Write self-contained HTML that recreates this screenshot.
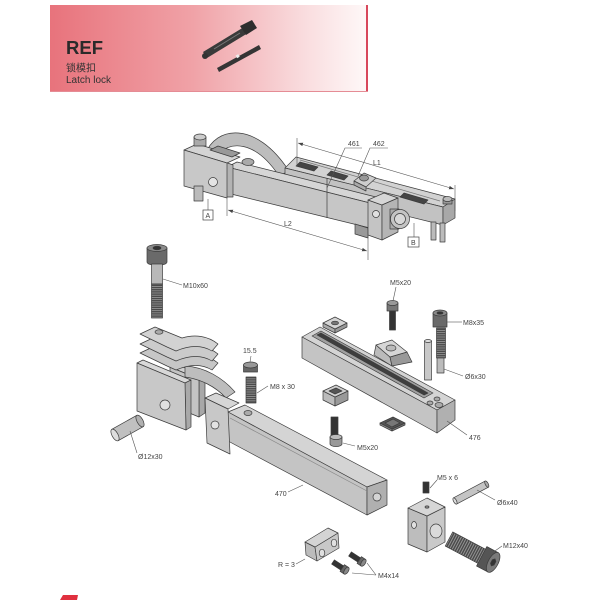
<!DOCTYPE html>
<html><head><meta charset="utf-8"><style>
html,body{margin:0;padding:0;background:#fff;}
svg{display:block;}
text{font-family:"Liberation Sans","Noto Sans CJK SC",sans-serif;}
</style></head><body>
<svg width="600" height="600" viewBox="0 0 600 600" xmlns="http://www.w3.org/2000/svg">
<defs>
<linearGradient id="hg" x1="0" x2="1" y1="0" y2="0">
<stop offset="0" stop-color="#e8737c"/>
<stop offset="0.45" stop-color="#f0a2a7"/>
<stop offset="0.8" stop-color="#f9dcde"/>
<stop offset="1" stop-color="#fef8f8"/>
</linearGradient>
<pattern id="thr" width="4" height="2.2" patternUnits="userSpaceOnUse"><rect width="4" height="2.2" fill="#4a4a4a"/><rect width="4" height="0.8" fill="#9a9a9a"/></pattern>
<pattern id="thv" width="2.4" height="4" patternUnits="userSpaceOnUse"><rect width="2.4" height="4" fill="#4a4a4a"/><rect width="0.9" height="4" fill="#9a9a9a"/></pattern>
<marker id="ar" markerWidth="6" markerHeight="6" refX="5" refY="3" orient="auto-start-reverse" markerUnits="userSpaceOnUse"><path d="M0,1.2 L5,3 L0,4.8 Z" fill="#444"/></marker>
</defs>

<!-- HEADER -->
<rect x="50" y="5" width="317" height="86" fill="url(#hg)"/>
<line x1="367" y1="5" x2="367" y2="91" stroke="#d8485c" stroke-width="2"/>
<line x1="50" y1="91.5" x2="368" y2="91.5" stroke="#e58c95" stroke-width="1"/>
<text x="66" y="54" font-size="18.5" font-weight="bold" fill="#2a2a2a">REF</text>
<text x="66" y="71.5" font-size="10" fill="#333">锁模扣</text>
<text x="66" y="83" font-size="10" fill="#333">Latch lock</text>
<g>
<polygon points="203,52 244,27 248,33 207,58" fill="#3a3a3a"/>
<polygon points="240,26 252,20 257,28 246,35" fill="#2e2e2e"/>
<circle cx="205" cy="56" r="3" fill="#333"/>
<line x1="214" y1="49" x2="240" y2="33" stroke="#777" stroke-width="1"/>
<polygon points="217,68 259,45 261,49 219,72" fill="#353535"/>
<rect x="236" y="55" width="3" height="3" fill="#eee" transform="rotate(-29 237 56)"/>
</g>

<!-- TOP ASSEMBLY -->
<g stroke="#3c3c3c" stroke-width="0.7" stroke-linejoin="round">
<!-- arch strap -->
<path d="M205,155 C215,126 256,120 289,171 L279,176 C256,141 229,139 216,157 Z" fill="#bdbdbd"/>
<!-- rail -->
<polygon points="285,168 296,157 455,199 443,207" fill="#d2d2d2"/>
<polygon points="285,168 443,207 443,225 285,186" fill="#c2c2c2"/>
<polygon points="443,207 455,199 455,218 443,225" fill="#a8a8a8"/>
<polygon points="296,166 300,162 318,167 314,171" fill="#444"/>
<polygon points="327,175 331,171 348,176 344,180" fill="#444"/>
<polygon points="400,197 404,193 428,200 424,204" fill="#444"/>
<line x1="300" y1="160" x2="440" y2="201" stroke="#777"/>
<!-- pins under rail end -->
<rect x="431" y="222" width="5" height="18" fill="#bbb"/>
<rect x="440" y="223" width="5" height="19" fill="#bbb"/>
<!-- bolt on rail end -->
<rect x="443" y="199" width="9" height="5" fill="#999"/>
<ellipse cx="447.5" cy="199" rx="4.5" ry="2.5" fill="#bbb"/>
<!-- beam -->
<polygon points="227,167 237,162 380,198 370,203" fill="#d6d6d6"/>
<polygon points="227,167 370,203 370,228 227,193" fill="#c6c6c6"/>
<line x1="327" y1="178" x2="327" y2="218"/>
<!-- clamp under beam -->
<polygon points="355,224 368,228 368,238 355,234" fill="#999"/>
<!-- nut on beam -->
<ellipse cx="248" cy="162" rx="6" ry="3.5" fill="#aaa"/>
<!-- left block -->
<polygon points="225,162 233,165 233,197 226,197" fill="#b3b3b3"/>
<polygon points="184,150 197,144 240,157 227,163" fill="#d4d4d4"/>
<polygon points="184,150 227,163 227,198 184,186" fill="#c8c8c8"/>
<circle cx="213" cy="182" r="4.5" fill="#e4e4e4"/>
<polygon points="210,150 218,146 240,153 232,157" fill="#999"/>
<rect x="194" y="137" width="12" height="9" fill="#aaa"/>
<ellipse cx="200" cy="137" rx="6" ry="3" fill="#ccc"/>
<rect x="194" y="186" width="9" height="15" fill="#bbb"/>
<!-- right block on beam end -->
<polygon points="368,200 382,205 382,240 368,235" fill="#c4c4c4"/>
<polygon points="368,200 384,193 398,198 382,205" fill="#d6d6d6"/>
<polygon points="382,205 398,198 398,232 382,240" fill="#b5b5b5"/>
<circle cx="376" cy="214" r="3.5" fill="#e0e0e0"/>
<rect x="390" y="209" width="9" height="20" fill="#aaa"/>
<circle cx="400" cy="219" r="9.5" fill="#c4c4c4"/>
<circle cx="400" cy="219" r="5.5" fill="#d8d8d8"/>
<!-- wedge 462 -->
<polygon points="354,181 364,173 376,178 366,187" fill="#cdcdcd"/>
<polygon points="354,181 366,187 366,191 354,185" fill="#aaa"/>
<ellipse cx="364" cy="178" rx="4.5" ry="3" fill="#999"/>
</g>
<!-- dimensions top -->
<g stroke="#555" stroke-width="0.6" fill="none">
<line x1="298" y1="143" x2="454" y2="189" marker-start="url(#ar)" marker-end="url(#ar)"/>
<line x1="297" y1="138" x2="297" y2="166"/>
<line x1="455" y1="185" x2="455" y2="211"/>
<line x1="228" y1="210" x2="367" y2="251" marker-start="url(#ar)" marker-end="url(#ar)"/>
<line x1="227" y1="196" x2="227" y2="216"/>
<line x1="368" y1="230" x2="368" y2="260"/>
<polyline points="362,148 345,148 327,188"/>
<polyline points="388,148 370,148 358,176"/>
<line x1="208" y1="199" x2="208" y2="210"/>
<line x1="414" y1="223" x2="414" y2="237"/>
</g>
<rect x="203" y="210" width="10" height="10" fill="#fff" stroke="#444" stroke-width="0.7"/>
<rect x="408" y="237" width="11" height="10" fill="#fff" stroke="#444" stroke-width="0.7"/>
<g font-size="7" fill="#444">
<text x="205.5" y="218">A</text>
<text x="411" y="245">B</text>
<text x="348" y="146">461</text>
<text x="373" y="146">462</text>
<text x="373" y="165">L1</text>
<text x="284" y="226">L2</text>
</g>

<!-- MIDDLE LEFT -->
<g stroke="#3c3c3c" stroke-width="0.7" stroke-linejoin="round">
<!-- bolt M10x60 -->
<path d="M147,248 L147,262 A10,3.5 0 0 0 167,262 L167,248 Z" fill="#6a6a6a"/>
<ellipse cx="157" cy="248" rx="10" ry="3.5" fill="#8a8a8a"/>
<ellipse cx="157" cy="248" rx="4" ry="1.8" fill="#333"/>
<rect x="151.5" y="264" width="11" height="20" fill="#b8b8b8"/>
<rect x="151.5" y="284" width="11" height="34" fill="url(#thr)"/>
<!-- clamp behind -->
<polygon points="170,367 176,364 205,376 199,379" fill="#d0d0d0"/>
<polygon points="199,379 205,376 205,413 199,417" fill="#a8a8a8"/>
<polygon points="170,367 199,379 199,417 170,405" fill="#c4c4c4"/>
<!-- curved strap -->
<path d="M185,366 C205,367 223,378 235,392 L226,398 C215,386 200,379 185,377 Z" fill="#bdbdbd"/>
<!-- plates -->
<g transform="translate(0,19)"><path d="M140,334 L155,327 L182,338 C195,334 208,336 218,344 L212,351 C202,345 190,345 176,351 L167,347 Z" fill="#c6c6c6"/></g>
<g transform="translate(0,10)"><path d="M140,334 L155,327 L182,338 C195,334 208,336 218,344 L212,351 C202,345 190,345 176,351 L167,347 Z" fill="#cbcbcb"/></g>
<path d="M140,334 L155,327 L182,338 C195,334 208,336 218,344 L212,351 C202,345 190,345 176,351 L167,347 Z" fill="#d2d2d2"/>
<ellipse cx="159" cy="332" rx="4" ry="2.2" fill="#aaa"/>
<!-- front plate -->
<polygon points="137,363 143,360 191,380 185,383" fill="#d8d8d8"/>
<polygon points="185,383 191,380 191,427 186,430" fill="#a9a9a9"/>
<polygon points="137,363 185,383 186,430 137,411" fill="#c8c8c8"/>
<circle cx="165" cy="405" r="5" fill="#e0e0e0"/>
<!-- pin 12x30 -->
<polygon points="111.8,429.3 136.8,415.3 143.2,426.7 118.2,440.7" fill="#c0c0c0"/>
<ellipse cx="140" cy="421" rx="3" ry="6.5" transform="rotate(-29.2 140 421)" fill="#b0b0b0"/>
<ellipse cx="115" cy="435" rx="3" ry="6.5" transform="rotate(-29.2 115 435)" fill="#dedede"/>
<!-- beam 470 -->
<polygon points="228,412 245,405 387,480 367,487" fill="#d4d4d4"/>
<polygon points="228,412 367,487 367,515 228,441" fill="#c4c4c4"/>
<polygon points="367,487 387,480 387,505 367,515" fill="#b0b0b0"/>
<line x1="230" y1="418" x2="367" y2="491" stroke="#888"/>
<circle cx="377" cy="497" r="4" fill="#d4d4d4"/>
<polygon points="205,398 216,393 239,403 228,409" fill="#d6d6d6"/>
<polygon points="205,398 228,409 230,454 207,443" fill="#c8c8c8"/>
<circle cx="215" cy="425" r="4" fill="#e2e2e2"/>
<ellipse cx="248" cy="413" rx="4" ry="2.5" fill="#aaa"/>
<!-- nut and screw -->
<rect x="243.5" y="365" width="14" height="7" fill="#666"/>
<ellipse cx="250.5" cy="365" rx="7" ry="3" fill="#999"/>
<rect x="246" y="377" width="10" height="26" fill="url(#thr)"/>
</g>
<g stroke="#555" stroke-width="0.6" fill="none">
<line x1="163" y1="279" x2="182" y2="285"/>
<line x1="251" y1="356" x2="250" y2="362"/>
<line x1="257" y1="393" x2="268" y2="386"/>
<line x1="130" y1="431" x2="137" y2="453"/>
<line x1="288" y1="492" x2="303" y2="485"/>
</g>
<g font-size="7" fill="#444">
<text x="183" y="288">M10x60</text>
<text x="243" y="353">15.5</text>
<text x="270" y="389">M8 x 30</text>
<text x="138" y="459">Ø12x30</text>
<text x="275" y="496">470</text>
</g>

<!-- MIDDLE RIGHT -->
<g stroke="#3c3c3c" stroke-width="0.7" stroke-linejoin="round">
<!-- bolt M5x20 -->
<rect x="387" y="303" width="11" height="8" fill="#777"/>
<ellipse cx="392.5" cy="303" rx="5.5" ry="2.5" fill="#999"/>
<rect x="389.5" y="311" width="6" height="19" fill="#333"/>
<!-- washer -->
<polygon points="323,323 335,329 335,333 323,327" fill="#aaa"/>
<polygon points="335,329 347,323 347,327 335,333" fill="#999"/>
<polygon points="323,323 335,317 347,323 335,329" fill="#d4d4d4"/>
<ellipse cx="335" cy="323" rx="3.5" ry="1.8" fill="#777"/>
<!-- rail 476 -->
<polygon points="302,337 320,327 455,400 437,410" fill="#d4d4d4"/>
<polygon points="302,337 437,410 437,433 302,358" fill="#c4c4c4"/>
<polygon points="437,410 455,400 455,420 437,433" fill="#b0b0b0"/>
<polygon points="312,336 321,331 433,393 424,398" fill="#a0a0a0"/>
<polygon points="317,335 321,333 428,393 424,395" fill="#3e3e3e"/>
<ellipse cx="430" cy="403" rx="3" ry="2" fill="#aaa"/>
<ellipse cx="437" cy="399" rx="3" ry="2" fill="#aaa"/>
<ellipse cx="439" cy="405" rx="4" ry="2.5" fill="#aaa"/>
<!-- wedge -->
<polygon points="374,355 376,345 390,357 392,366" fill="#bbb"/>
<polygon points="390,357 407,352 412,362 392,366" fill="#999"/>
<polygon points="376,345 392,340 407,352 390,357" fill="#d6d6d6"/>
<ellipse cx="391" cy="348" rx="5" ry="3" fill="#bbb"/>
<!-- bolt M8x35 -->
<rect x="433" y="313" width="14" height="14" fill="#6a6a6a"/>
<ellipse cx="440" cy="313" rx="7" ry="3" fill="#8a8a8a"/>
<ellipse cx="440" cy="313" rx="3" ry="1.3" fill="#333"/>
<rect x="436.5" y="328" width="9" height="30" fill="url(#thr)"/>
<rect x="437" y="358" width="7" height="15" fill="#bbb"/>
<!-- pin 6x30 -->
<rect x="424.5" y="341" width="7" height="39" fill="#c8c8c8"/>
<ellipse cx="428" cy="341" rx="3.5" ry="1.5" fill="#ddd"/>
<!-- square nut -->
<polygon points="323,391 335,397 335,406 323,400" fill="#bbb"/>
<polygon points="335,397 348,391 348,400 335,406" fill="#999"/>
<polygon points="323,391 336,385 348,391 335,397" fill="#cfcfcf"/>
<polygon points="329,391 336,388 342,391 335,394" fill="#555"/>
<!-- flat grid square -->
<polygon points="380,423 392,429 392,431 380,425" fill="#888"/>
<polygon points="392,429 405,423 405,425 392,431" fill="#777"/>
<polygon points="380,423 393,417 405,423 392,429" fill="#555"/>
<polygon points="385,423 393,419 400,423 392,427" fill="#777"/>
<!-- M5x20 lower -->
<rect x="331" y="417" width="7" height="20" fill="#333"/>
<path d="M330,437 L330,444 A6,2.5 0 0 0 342,444 L342,437 Z" fill="#999"/>
<ellipse cx="336" cy="437" rx="6" ry="2.5" fill="#bbb"/>
</g>
<g stroke="#555" stroke-width="0.6" fill="none">
<line x1="396" y1="287" x2="393" y2="301"/>
<line x1="447" y1="322" x2="462" y2="322"/>
<line x1="444" y1="369" x2="463" y2="376"/>
<line x1="447" y1="421" x2="467" y2="435"/>
<line x1="343" y1="443" x2="355" y2="446"/>
</g>
<g font-size="7" fill="#444">
<text x="390" y="285">M5x20</text>
<text x="463" y="325">M8x35</text>
<text x="465" y="379">Ø6x30</text>
<text x="469" y="440">476</text>
<text x="357" y="450">M5x20</text>
</g>

<!-- BOTTOM -->
<g stroke="#3c3c3c" stroke-width="0.7" stroke-linejoin="round">
<!-- set screw -->
<rect x="423" y="482" width="6" height="11" fill="#333"/>
<!-- pin 6x40 -->
<g transform="translate(455,501) rotate(-28)">
<rect x="0" y="-3.5" width="36" height="7" fill="#c4c4c4"/>
<ellipse cx="36" cy="0" rx="1.5" ry="3.5" fill="#aaa"/>
<ellipse cx="0" cy="0" rx="1.5" ry="3.5" fill="#ddd"/>
</g>
<!-- latch block -->
<polygon points="408,508 427,516 427,552 408,544" fill="#bdbdbd"/>
<polygon points="427,516 445,507 445,542 427,552" fill="#c9c9c9"/>
<polygon points="408,508 427,498 445,507 427,516" fill="#d6d6d6"/>
<ellipse cx="427" cy="507" rx="2" ry="1.2" fill="#888"/>
<ellipse cx="414" cy="525" rx="2.5" ry="3.5" fill="#e0e0e0"/>
<ellipse cx="436" cy="531" rx="6" ry="7" fill="#dadada"/>
<!-- M12x40 -->
<g transform="translate(449,539) rotate(27.9)">
<rect x="0" y="-8" width="38" height="16" fill="url(#thv)"/>
<rect x="37" y="-11" width="13" height="22" fill="#555"/>
<ellipse cx="50" cy="0" rx="5" ry="11" fill="#7a7a7a"/>
<polygon points="50,-4 52,-2 52,2 50,4 48,2 48,-2" fill="#333"/>
</g>
<!-- small block R=3 -->
<polygon points="305,542 315,547 317,561 306,555" fill="#bcbcbc"/>
<polygon points="315,547 338,533 339,548 317,561" fill="#c8c8c8"/>
<polygon points="305,542 328,528 338,533 315,547" fill="#d4d4d4"/>
<ellipse cx="322" cy="553" rx="2.8" ry="3.8" fill="#e0e0e0"/>
<ellipse cx="334" cy="543" rx="2.8" ry="3.8" fill="#e0e0e0"/>
<!-- M4x14 screws -->
<g transform="translate(350,554) rotate(33)">
<rect x="0" y="-2.5" width="11" height="5" fill="#333"/>
<rect x="11" y="-4" width="5" height="8" fill="#666"/>
<ellipse cx="16" cy="0" rx="2" ry="4" fill="#888"/>
</g>
<g transform="translate(333,562) rotate(33)">
<rect x="0" y="-2.5" width="11" height="5" fill="#333"/>
<rect x="11" y="-4" width="5" height="8" fill="#666"/>
<ellipse cx="16" cy="0" rx="2" ry="4" fill="#888"/>
</g>
</g>
<g stroke="#555" stroke-width="0.6" fill="none">
<line x1="430" y1="488" x2="437" y2="480"/>
<line x1="477" y1="490" x2="495" y2="500"/>
<line x1="492" y1="553" x2="502" y2="546"/>
<line x1="296" y1="564" x2="305" y2="559"/>
<line x1="367" y1="563" x2="376" y2="575"/>
<line x1="352" y1="573" x2="376" y2="575"/>
</g>
<g font-size="7" fill="#444">
<text x="437" y="480">M5 x 6</text>
<text x="497" y="505">Ø6x40</text>
<text x="503" y="548">M12x40</text>
<text x="278" y="567">R = 3</text>
<text x="378" y="578">M4x14</text>
</g>

<!-- red mark -->
<polygon points="60,600 63,595 78,595 77,600" fill="#e0303f"/>
</svg>
</body></html>
